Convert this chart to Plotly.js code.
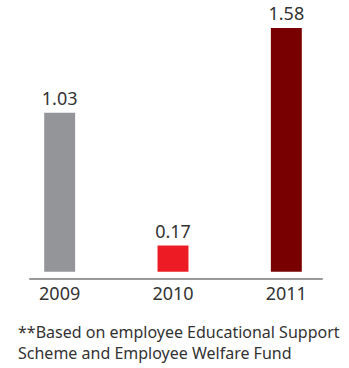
<!DOCTYPE html>
<html>
<head>
<meta charset="utf-8">
<script src="https://cdn.plot.ly/plotly-3.0.1.min.js"></script>
<style>html,body{margin:0;padding:0;background:#fff;}#chart{width:349px;height:368px;}</style>
</head>
<body>
<div id="chart"></div>
<script>
var years = ['2009', '2010', '2011'];
var values = [1.03, 0.17, 1.58];
var labels = ['1.03', '0.17', '1.58'];
var barColors = ['#939598', '#ED1C24', '#790000'];
var footnote = '**Based on employee Educational Support<br>Scheme and Employee Welfare Fund';

var font = 'Noto Sans, Open Sans, sans-serif';
var data = [{
  type: 'bar',
  x: years,
  y: values,
  text: labels,
  textposition: 'outside',
  constraintext: 'none',
  cliponaxis: false,
  width: 0.273,
  marker: {color: barColors},
  textfont: {family: font, size: 18, color: '#333'},
  hoverinfo: 'none'
}];
var layout = {
  width: 349, height: 368,
  margin: {l: 3, r: 6, t: 0, b: 87},
  paper_bgcolor: '#fff', plot_bgcolor: '#fff',
  showlegend: false,
  xaxis: {type: 'category', range: [-0.5, 2.5], showgrid: false, zeroline: false, showline: false,
          ticks: '', tickfont: {family: font, size: 18, color: '#333'}, fixedrange: true},
  yaxis: {range: [-0.06, 1.7616], visible: false, fixedrange: true},
  shapes: [{type: 'line', xref: 'x', yref: 'y', x0: -0.269, x1: 2.322, y0: -0.047, y1: -0.047,
            line: {color: '#9a9a9a', width: 2}}],
  annotations: [{xref: 'paper', yref: 'paper', x: 0.038, y: -0.135, xanchor: 'left', yanchor: 'top',
                 text: footnote, showarrow: false, align: 'left',
                 font: {family: font, size: 16, color: '#333'}}]
};
Plotly.newPlot('chart', data, layout, {displayModeBar: false, staticPlot: true});
</script>
</body>
</html>
